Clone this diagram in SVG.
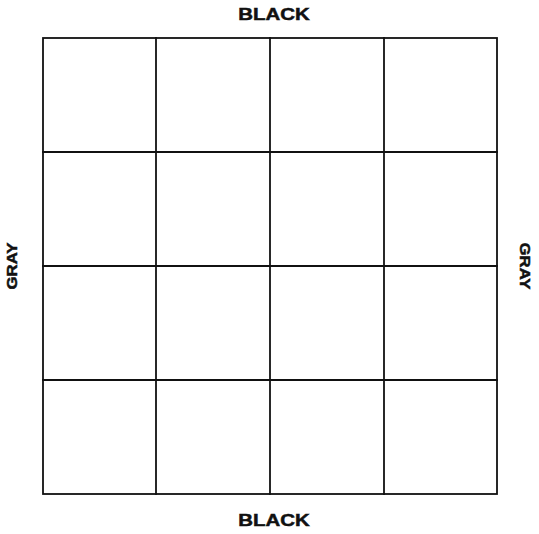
<svg xmlns="http://www.w3.org/2000/svg" width="539" height="534" viewBox="0 0 539 534">
<style>
.ln{stroke:#111;stroke-width:1.8;fill:none;stroke-linecap:square}
.lbl{font-family:"Liberation Sans",Arial,sans-serif;font-weight:bold;fill:#111;text-anchor:middle;stroke:#111;stroke-width:0.5}
.b{font-size:17px}
.g{font-size:14px}
</style>
<rect width="539" height="534" fill="#fff"/>
<g id="grid">
<rect class="ln" x="43" y="38" width="454" height="456"/>
<line class="ln" x1="156" y1="38" x2="156" y2="494"/>
<line class="ln" x1="270" y1="38" x2="270" y2="494"/>
<line class="ln" x1="384" y1="38" x2="384" y2="494"/>
<line class="ln" x1="43" y1="152" x2="497" y2="152"/>
<line class="ln" x1="43" y1="266" x2="497" y2="266"/>
<line class="ln" x1="43" y1="380" x2="497" y2="380"/>
</g>
<g id="labels">
<text class="lbl b" transform="translate(274,20) scale(1.2,1)">BLACK</text>
<text class="lbl b" transform="translate(274,526) scale(1.2,1)">BLACK</text>
<text class="lbl g" transform="translate(17,266) rotate(-90) scale(1.2,1)">GRAY</text>
<text class="lbl g" transform="translate(520,266) rotate(90) scale(1.2,1)">GRAY</text>
</g>
</svg>
